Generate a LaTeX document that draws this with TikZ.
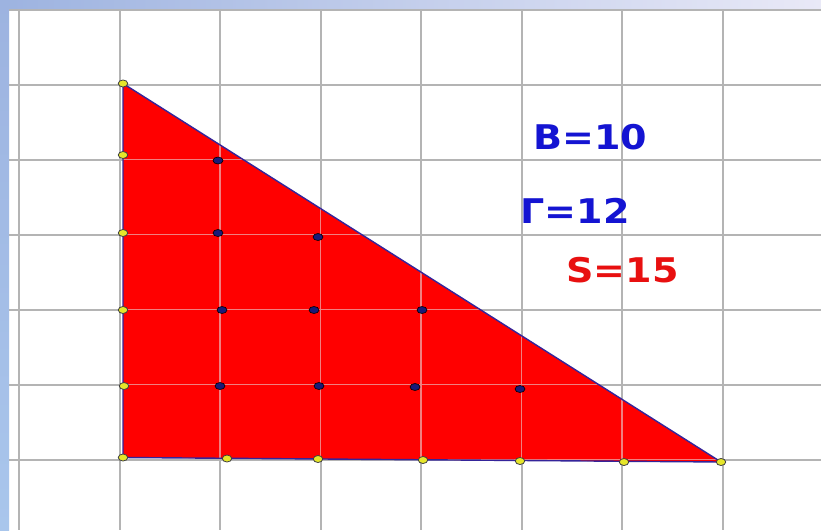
\documentclass[tikz,border=0pt]{standalone}
\usepackage{fontspec}
\newfontfamily\labfont{DejaVu Sans}
\definecolor{barA}{HTML}{9DB3E0}
\definecolor{barB}{HTML}{E9E9F7}
\definecolor{barC}{HTML}{A9C6EC}
\definecolor{gridgray}{HTML}{B4B4B4}
\definecolor{gridpink}{HTML}{F08080}
\definecolor{edgeblue}{HTML}{34249A}
\definecolor{txtblue}{HTML}{1414D2}
\definecolor{txtred}{HTML}{E81010}
\definecolor{dotyellow}{HTML}{E6E62A}
\definecolor{dotnavy}{HTML}{1A1A78}
\tikzset{
  bdot/.style={ellipse, inner sep=0pt, minimum width=9.5pt, minimum height=7pt, fill=dotyellow, draw=black!75, line width=0.8pt},
  idot/.style={ellipse, inner sep=0pt, minimum width=10pt, minimum height=7pt, fill=dotnavy, draw=black, line width=0.6pt},
  lab/.style={inner sep=0pt, font=\labfont\bfseries\fontsize{34}{34}\selectfont}
}
\usetikzlibrary{shapes.geometric}
\begin{document}
\begin{tikzpicture}[x=1pt,y=-1pt]
\useasboundingbox (0,0) rectangle (821,530);
\fill[white] (0,0) rectangle (821,530);
% window bars
\shade[left color=barA, right color=barB] (0,0) rectangle (821,9);
\shade[top color=barA, bottom color=barC] (0,0) rectangle (9,530);
% grid
\foreach \i in {0,...,8} {
  \draw[gridgray, line width=2pt] ({19+100.5*\i},9) -- ({19+100.5*\i},530);
}
\foreach \j in {0,...,6} {
  \draw[gridgray, line width=2pt] (9,{9.5+75*\j}) -- (821,{9.5+75*\j});
}
% vertices
\coordinate (A) at (123,83.5);
\coordinate (C) at (123,457.5);
\coordinate (D) at (721,462);
\fill[red] (A) -- (C) -- (D) -- cycle;
\begin{scope}
  \clip (A) -- (C) -- (D) -- cycle;
  \foreach \i in {0,...,8} {
    \draw[gridpink, line width=1.8pt] ({19+100.5*\i},9) -- ({19+100.5*\i},530);
  }
  \foreach \j in {0,...,6} {
    \draw[gridpink, line width=1.8pt] (9,{9.5+75*\j}) -- (821,{9.5+75*\j});
  }
\end{scope}
\draw[edgeblue, line width=1.4pt, line join=round] (A) -- (C) -- (D) -- cycle;
% boundary points
\node[bdot] (b1) at (A) {};
\node[bdot] (b2) at (123,155) {};
\node[bdot] (b3) at (123,233) {};
\node[bdot] (b4) at (123,310) {};
\node[bdot] (b5) at (124,386) {};
\node[bdot] (b6) at (C) {};
\node[bdot] (b7) at (227,458.5) {};
\node[bdot] (b8) at (318,459) {};
\node[bdot] (b9) at (423,460) {};
\node[bdot] (b10) at (520,461) {};
\node[bdot] (b11) at (624,462) {};
\node[bdot] (b12) at (D) {};
% interior points
\node[idot] (i1) at (218,160.5) {};
\node[idot] (i2) at (218,233) {};
\node[idot] (i3) at (318,237) {};
\node[idot] (i4) at (222,310) {};
\node[idot] (i5) at (314,310) {};
\node[idot] (i6) at (422,310) {};
\node[idot] (i7) at (220,386) {};
\node[idot] (i8) at (319,386) {};
\node[idot] (i9) at (415,387) {};
\node[idot] (i10) at (520,389) {};
% labels
\node[lab, text=txtblue] (tB) at (590.5,137.5) {\scalebox{1.12}[1]{В=10}};
\node[lab, text=txtblue] (tG) at (575,211) {\scalebox{1.12}[1]{Г=12}};
\node[lab, text=txtred] (tS) at (622.5,270) {\scalebox{1.12}[1]{S=15}};
\end{tikzpicture}
\end{document}
